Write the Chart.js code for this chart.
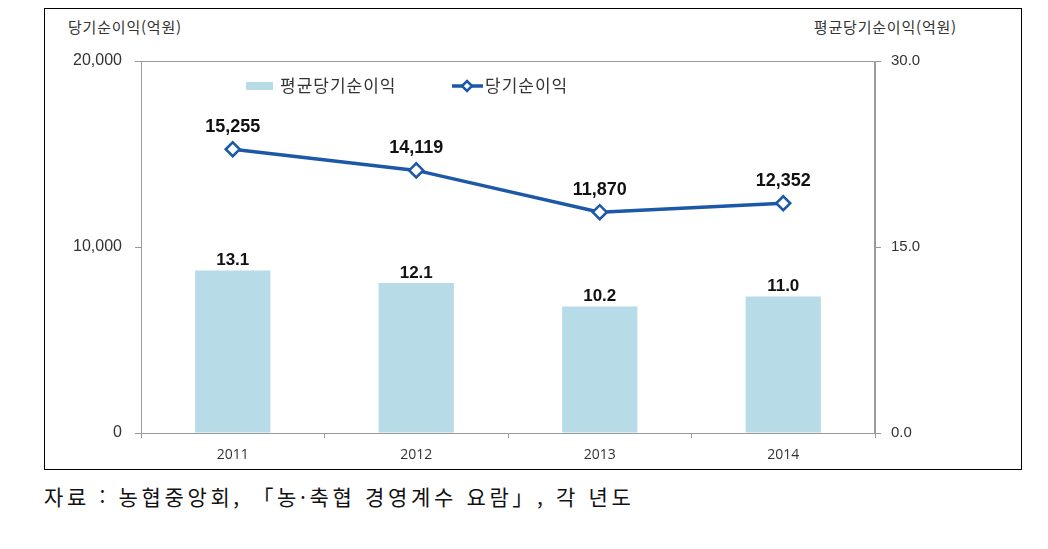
<!DOCTYPE html>
<html lang="ko">
  <head>
    <meta charset="UTF-8" />
    <title>당기순이익</title>
    <style>
      body { margin: 0; background: #fff; font-family: "Noto Sans CJK KR", sans-serif; }
      .frame { position: absolute; left: 44px; top: 8px; width: 976px; height: 460px; border: 1px solid #000; }
      .frame canvas { position: absolute; left: 0; top: 0; }
      .ytitle { position: absolute; top: 7px; font-size: 15px; letter-spacing: 0.8px; color: #333; }
      .source { position: absolute; left: 44px; top: 481px; font-size: 21px; letter-spacing: 3.65px; color: #111; }
    </style>
  </head>
  <body>
    <div class="frame">
      <div class="ytitle" style="left: 23px">당기순이익(억원)</div>
      <div class="ytitle" style="right: 64px">평균당기순이익(억원)</div>
      <canvas id="profitChart" width="976" height="460"></canvas>
    </div>
    <div class="source">자료 : 농협중앙회, 「농·축협 경영계수 요람」, 각 년도</div>

    <script src="https://cdn.jsdelivr.net/npm/chart.js"></script>
    <script>
      const years = ["2011", "2012", "2013", "2014"];
      const avgProfit = [13.1, 12.1, 10.2, 11.0]; // 평균당기순이익 (right axis)
      const netProfit = [15255, 14119, 11870, 12352]; // 당기순이익 (left axis)
      const leftTicks = [0, 10000, 20000];
      const rightTicks = [0, 15, 30];

      const barColor = "#b7dce8";
      const lineColor = "#1c58a8";
      const numFont = "Liberation Sans, Arial, sans-serif";

      const extras = {
        id: "extras",
        beforeDatasetsDraw(chart) {
          const a = chart.chartArea;
          const ctx = chart.ctx;
          ctx.save();
          ctx.strokeStyle = "#9a9a9a";
          ctx.lineWidth = 1;
          ctx.beginPath();
          ctx.moveTo(a.left + 0.5, a.bottom);
          ctx.lineTo(a.left + 0.5, a.top + 0.5);
          ctx.lineTo(a.right - 0.5, a.top + 0.5);
          ctx.lineTo(a.right - 0.5, a.bottom);
          ctx.stroke();
          ctx.restore();
        },
        afterDatasetsDraw(chart) {
          const ctx = chart.ctx;
          ctx.save();
          ctx.fillStyle = "#111";
          ctx.textAlign = "center";
          ctx.textBaseline = "middle";
          // bar labels
          ctx.font = "bold 17px " + numFont;
          chart.getDatasetMeta(1).data.forEach((el, i) => {
            ctx.fillText(avgProfit[i].toFixed(1), el.x, el.y - 10);
          });
          // line labels
          ctx.font = "bold 18px " + numFont;
          chart.getDatasetMeta(0).data.forEach((el, i) => {
            ctx.fillText(netProfit[i].toLocaleString("en-US"), el.x, el.y - 22);
          });

          // legend
          ctx.font = "17px 'Noto Sans CJK KR', sans-serif";
          ctx.letterSpacing = "1px";
          ctx.textAlign = "left";
          ctx.fillStyle = barColor;
          ctx.fillRect(201, 73, 27, 8);
          ctx.fillStyle = "#333";
          ctx.fillText("평균당기순이익", 235, 77);

          ctx.strokeStyle = lineColor;
          ctx.lineWidth = 3.5;
          ctx.beginPath();
          ctx.moveTo(407, 77);
          ctx.lineTo(438, 77);
          ctx.stroke();
          ctx.fillStyle = "#fff";
          ctx.lineWidth = 2.5;
          ctx.beginPath();
          ctx.moveTo(422, 72);
          ctx.lineTo(427, 77);
          ctx.lineTo(422, 82);
          ctx.lineTo(417, 77);
          ctx.closePath();
          ctx.fill();
          ctx.stroke();
          ctx.fillStyle = "#333";
          ctx.fillText("당기순이익", 440, 77);
          ctx.restore();
        },
      };

      new Chart(document.getElementById("profitChart").getContext("2d"), {
        data: {
          labels: years,
          datasets: [
            {
              type: "line",
              label: "당기순이익",
              data: netProfit,
              yAxisID: "y",
              borderColor: lineColor,
              borderWidth: 3.5,
              pointStyle: "rectRot",
              pointRadius: 7,
              pointBorderWidth: 2.5,
              pointBackgroundColor: "#fff",
              pointBorderColor: lineColor,
              tension: 0,
              order: 0,
            },
            {
              type: "bar",
              label: "평균당기순이익",
              data: avgProfit,
              yAxisID: "y1",
              backgroundColor: barColor,
              barPercentage: 0.41,
              categoryPercentage: 1,
              order: 1,
            },
          ],
        },
        options: {
          responsive: false,
          animation: false,
          layout: { padding: { top: 52, left: 0, right: 0, bottom: 0 } },
          plugins: { legend: { display: false }, tooltip: { enabled: false } },
          scales: {
            x: {
              afterFit(s) { s.height = 36; },
              grid: { offset: true, drawOnChartArea: false, tickLength: 5, color: "#9a9a9a" },
              border: { color: "#9a9a9a" },
              ticks: { padding: 9, color: "#333", font: { family: "Open Sans", size: 14 } },
            },
            y: {
              position: "left",
              min: 0,
              max: 20000,
              afterFit(s) { s.width = 96; },
              afterBuildTicks(s) { s.ticks = leftTicks.map((v) => ({ value: v })); },
              grid: { drawOnChartArea: false, tickLength: 6, color: "#9a9a9a" },
              border: { color: "#9a9a9a" },
              ticks: {
                padding: 13,
                color: "#333",
                font: { family: numFont, size: 16 },
                callback: (v) => v.toLocaleString("en-US"),
              },
            },
            y1: {
              position: "right",
              min: 0,
              max: 30,
              afterFit(s) { s.width = 146; },
              afterBuildTicks(s) { s.ticks = rightTicks.map((v) => ({ value: v })); },
              grid: { drawOnChartArea: false, tickLength: 6, color: "#9a9a9a" },
              border: { color: "#9a9a9a" },
              ticks: {
                padding: 10,
                color: "#333",
                font: { family: numFont, size: 15 },
                callback: (v) => Number(v).toFixed(1),
              },
            },
          },
        },
        plugins: [extras],
      });
    </script>
  </body>
</html>
